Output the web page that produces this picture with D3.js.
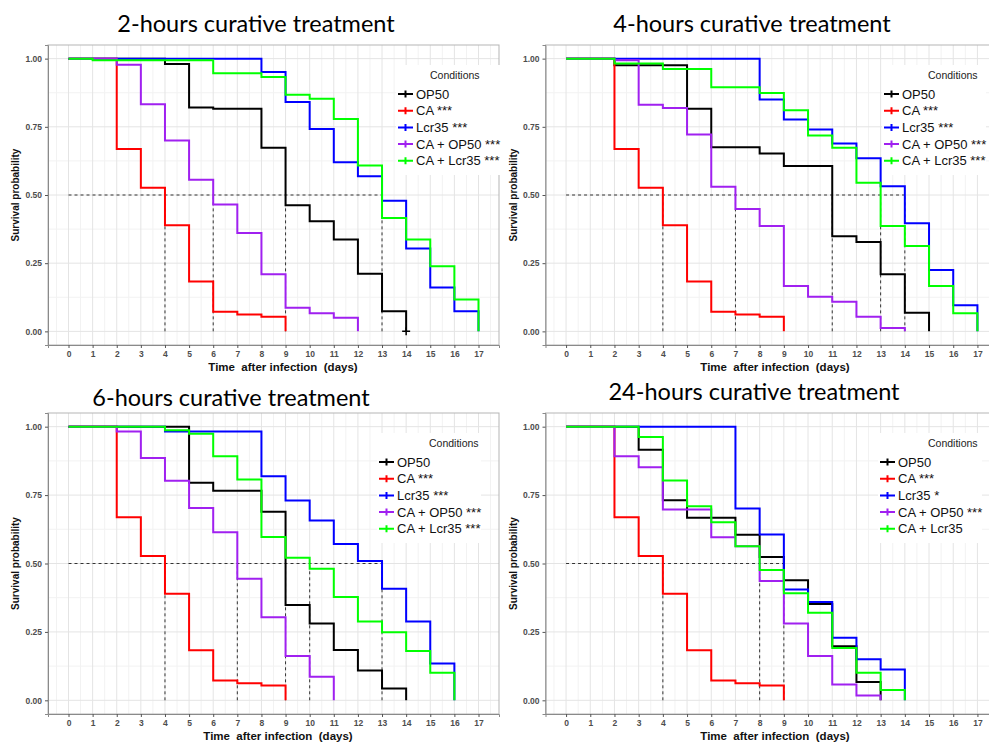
<!DOCTYPE html>
<html>
<head>
<meta charset="utf-8">
<script src="https://cdn.jsdelivr.net/npm/d3@7"></script>
<style>
  body { margin: 0; background: #fff; }
  svg { display: block; }
</style>
</head>
<body>
<div id="chart"></div>
<script>
var width = 989;
var height = 742;

// ---- data ----
var dayTicks = [0, 1, 2, 3, 4, 5, 6, 7, 8, 9, 10, 11, 12, 13, 14, 15, 16, 17];
var probTicks = [0, 0.25, 0.5, 0.75, 1];
var conditions = ["OP50", "CA", "Lcr35", "CA + OP50", "CA + Lcr35"];
var colors = ["#000000", "#ff0000", "#0000ff", "#a020f0", "#00ff00"];

// survival probability from day i to day i+1 (last value = end of curve)
var caSurv = [1, 1, 0.669, 0.527, 0.389, 0.183, 0.072, 0.062, 0.054, 0];

var h2_op50    = [1, 1, 1, 1, 0.98, 0.821, 0.816, 0.816, 0.673, 0.462, 0.404, 0.337, 0.211, 0.074, 0];
var h2_lcr35   = [1, 1, 1, 1, 1, 1, 1, 1, 0.951, 0.841, 0.742, 0.620, 0.569, 0.479, 0.304, 0.161, 0.074, 0];
var h2_caop50  = [1, 1, 0.978, 0.833, 0.700, 0.556, 0.465, 0.361, 0.209, 0.087, 0.066, 0.050, 0];
var h2_calcr35 = [1, 0.994, 0.994, 0.994, 0.994, 0.994, 0.946, 0.946, 0.933, 0.868, 0.853, 0.779, 0.608, 0.416, 0.337, 0.239, 0.117, 0];

var h4_op50    = [1, 1, 0.976, 0.976, 0.976, 0.816, 0.675, 0.675, 0.652, 0.606, 0.606, 0.349, 0.328, 0.209, 0.068, 0];
var h4_lcr35   = [1, 1, 1, 1, 1, 1, 1, 1, 0.850, 0.777, 0.740, 0.689, 0.635, 0.532, 0.396, 0.225, 0.096, 0];
var h4_caop50  = [1, 1, 0.994, 0.831, 0.819, 0.722, 0.530, 0.449, 0.386, 0.166, 0.127, 0.109, 0.054, 0.012, 0];
var h4_calcr35 = [1, 1, 0.982, 0.982, 0.962, 0.962, 0.895, 0.895, 0.874, 0.811, 0.718, 0.673, 0.545, 0.386, 0.313, 0.166, 0.066, 0];

var h6_op50    = [1, 1, 1, 1, 1, 0.795, 0.766, 0.766, 0.689, 0.348, 0.281, 0.184, 0.109, 0.043, 0];
var h6_lcr35   = [1, 1, 1, 1, 0.982, 0.982, 0.982, 0.982, 0.819, 0.730, 0.657, 0.571, 0.509, 0.408, 0.288, 0.135, 0];
var h6_caop50  = [1, 1, 0.982, 0.886, 0.802, 0.703, 0.614, 0.444, 0.304, 0.162, 0.086, 0];
var h6_calcr35 = [1, 1, 1, 1, 0.987, 0.974, 0.892, 0.807, 0.597, 0.521, 0.481, 0.378, 0.288, 0.249, 0.180, 0.101, 0];

var h24_op50    = [1, 1, 1, 0.916, 0.731, 0.667, 0.667, 0.605, 0.524, 0.439, 0.352, 0.198, 0.067, 0];
var h24_lcr35   = [1, 1, 1, 1, 1, 1, 1, 0.701, 0.606, 0.405, 0.359, 0.229, 0.150, 0.113, 0];
var h24_caop50  = [1, 1, 0.892, 0.852, 0.697, 0.697, 0.596, 0.563, 0.436, 0.281, 0.162, 0.058, 0.018, 0];
var h24_calcr35 = [1, 1, 1, 0.962, 0.803, 0.709, 0.651, 0.563, 0.476, 0.391, 0.320, 0.191, 0.101, 0.038, 0];

var sigMain = ["", " ***", " ***", " ***", " ***"];
var sig24h  = ["", " ***", " *", " ***", ""];
var titles = ["2-hours curative treatment", "4-hours curative treatment",
              "6-hours curative treatment", "24-hours curative treatment"];
// censored observation (panel, condition, day)
var censorMarks = [{panel: 0, cond: 0, day: 14}];

// ---- layout ----
var panels = [
  {title: titles[0], series: [h2_op50, caSurv, h2_lcr35, h2_caop50, h2_calcr35], sig: sigMain,
   left: 48, right: 499, top: 45, bottom: 345, tx: 256, ty: 32, xlab: 283, legX: 398, legTitleX: 430},
  {title: titles[1], series: [h4_op50, caSurv, h4_lcr35, h4_caop50, h4_calcr35], sig: sigMain,
   left: 545.5, right: 998, top: 45, bottom: 345, tx: 752, ty: 32, xlab: 775, legX: 884, legTitleX: 928},
  {title: titles[2], series: [h6_op50, caSurv, h6_lcr35, h6_caop50, h6_calcr35], sig: sigMain,
   left: 48, right: 499, top: 413, bottom: 714, tx: 231, ty: 406, xlab: 278, legX: 379, legTitleX: 429},
  {title: titles[3], series: [h24_op50, caSurv, h24_lcr35, h24_caop50, h24_calcr35], sig: sig24h,
   left: 545.5, right: 998, top: 413, bottom: 714, tx: 754, ty: 400, xlab: 775, legX: 880, legTitleX: 928}
];

var svg = d3.select("#chart")
  .append("svg")
  .attr("width", width)
  .attr("height", height)
  .attr("font-family", "'Liberation Sans', Arial, sans-serif");

panels.forEach(function(p, pi) {
  var x = d3.scaleLinear().domain([-0.85, 17.85]).range([p.left, p.right]);
  var y = d3.scaleLinear().domain([-0.05, 1.05]).range([p.bottom, p.top]);
  var g = svg.append("g").attr("class", "panel");

  // title
  g.append("text")
    .attr("x", p.tx).attr("y", p.ty)
    .attr("text-anchor", "middle")
    .attr("font-family", "Lato, 'Open Sans', sans-serif")
    .attr("font-size", 23.5)
    .attr("fill", "#000")
    .text(p.title);

  // minor grid
  var xMinor = d3.range(-0.5, 18, 1);
  var yMinor = [0.125, 0.375, 0.625, 0.875];
  g.selectAll(".xminor").data(xMinor).enter().append("line")
    .attr("x1", function(d) { return x(d); }).attr("x2", function(d) { return x(d); })
    .attr("y1", p.top).attr("y2", p.bottom)
    .attr("stroke", "#f2f2f2").attr("stroke-width", 1);
  g.selectAll(".yminor").data(yMinor).enter().append("line")
    .attr("x1", p.left).attr("x2", p.right)
    .attr("y1", function(d) { return y(d); }).attr("y2", function(d) { return y(d); })
    .attr("stroke", "#f2f2f2").attr("stroke-width", 1);
  // major grid
  g.selectAll(".xmajor").data(dayTicks).enter().append("line")
    .attr("x1", function(d) { return x(d); }).attr("x2", function(d) { return x(d); })
    .attr("y1", p.top).attr("y2", p.bottom)
    .attr("stroke", "#e4e4e4").attr("stroke-width", 1);
  g.selectAll(".ymajor").data(probTicks).enter().append("line")
    .attr("x1", p.left).attr("x2", p.right)
    .attr("y1", function(d) { return y(d); }).attr("y2", function(d) { return y(d); })
    .attr("stroke", "#e4e4e4").attr("stroke-width", 1);

  // panel border
  g.append("rect")
    .attr("x", p.left).attr("y", p.top)
    .attr("width", p.right - p.left).attr("height", p.bottom - p.top)
    .attr("fill", "none").attr("stroke", "#b5b5b5").attr("stroke-width", 1);

  // legend background sits under the curves
  g.append("rect")
    .attr("x", p.legX - 2).attr("y", p.top + 20)
    .attr("width", 104).attr("height", 110)
    .attr("fill", "#fff");

  // median lines
  var medians = p.series.map(function(s) {
    return s.findIndex(function(v) { return v <= 0.5; });
  });
  var maxMed = d3.max(medians);
  g.append("line")
    .attr("x1", x(0)).attr("x2", x(maxMed))
    .attr("y1", y(0.5)).attr("y2", y(0.5))
    .attr("stroke", "#333").attr("stroke-width", 1).attr("stroke-dasharray", "3,3");
  g.selectAll(".median").data(d3.union(medians)).enter().append("line")
    .attr("x1", function(d) { return x(d); }).attr("x2", function(d) { return x(d); })
    .attr("y1", y(0)).attr("y2", y(0.5))
    .attr("stroke", "#333").attr("stroke-width", 1).attr("stroke-dasharray", "3,3");

  // survival curves
  var line = d3.line()
    .x(function(d, i) { return x(i); })
    .y(function(d) { return y(d); })
    .curve(d3.curveStepAfter);
  g.selectAll(".curve").data(p.series).enter().append("path")
    .attr("d", function(d) { return line(d); })
    .attr("fill", "none")
    .attr("stroke", function(d, i) { return colors[i]; })
    .attr("stroke-width", 2);

  censorMarks.filter(function(c) { return c.panel === pi; }).forEach(function(c) {
    var cx = x(c.day), cy = y(p.series[c.cond][c.day]);
    g.append("path")
      .attr("d", "M" + (cx - 4) + "," + cy + "H" + (cx + 4) + "M" + cx + "," + (cy - 4) + "V" + (cy + 4))
      .attr("stroke", colors[c.cond]).attr("stroke-width", 1.5);
  });

  // axes
  var xAxis = g.append("g")
    .attr("transform", "translate(0," + p.bottom + ")")
    .call(d3.axisBottom(x).tickValues(dayTicks).tickSize(3).tickPadding(3));
  var yAxis = g.append("g")
    .attr("transform", "translate(" + p.left + ",0)")
    .call(d3.axisLeft(y).tickValues(probTicks).tickFormat(d3.format(".2f")).tickSize(3).tickPadding(3));
  [xAxis, yAxis].forEach(function(a) {
    a.select(".domain").attr("stroke", "#8a8a8a");
    a.selectAll(".tick line").attr("stroke", "#555");
    a.selectAll(".tick text")
      .attr("fill", "#4d4d4d")
      .attr("font-size", 8.5)
      .attr("font-weight", "bold")
      .attr("font-family", "'Liberation Sans', Arial, sans-serif");
  });

  // axis titles
  g.append("text")
    .attr("x", p.xlab).attr("y", p.bottom + 26)
    .attr("text-anchor", "middle")
    .attr("font-size", 11.5).attr("font-weight", "bold")
    .attr("fill", "#111")
    .text("Time  after infection  (days)")
    .style("white-space", "pre");
  g.append("text")
    .attr("transform", "translate(" + (p.left - 29) + "," + ((y(0) + y(1)) / 2) + ") rotate(-90)")
    .attr("text-anchor", "middle")
    .attr("font-size", 10).attr("font-weight", "bold")
    .attr("fill", "#111")
    .text("Survival probability");

  // legend
  var leg = g.append("g");
  leg.append("text")
    .attr("x", p.legTitleX).attr("y", p.top + 34)
    .attr("font-size", 10.5).attr("fill", "#222")
    .text("Conditions");
  var item = leg.selectAll(".item").data(conditions).enter().append("g")
    .attr("transform", function(d, i) { return "translate(" + p.legX + "," + (p.top + 49 + i * 16.7) + ")"; });
  item.append("path")
    .attr("d", "M0,0H15M7.5,-3.5V3.5")
    .attr("stroke", function(d, i) { return colors[i]; })
    .attr("stroke-width", 2);
  item.append("text")
    .attr("x", 18).attr("y", 4.5)
    .attr("font-size", 13).attr("fill", "#111")
    .text(function(d, i) { return d + p.sig[i]; });
});
</script>
</body>
</html>
